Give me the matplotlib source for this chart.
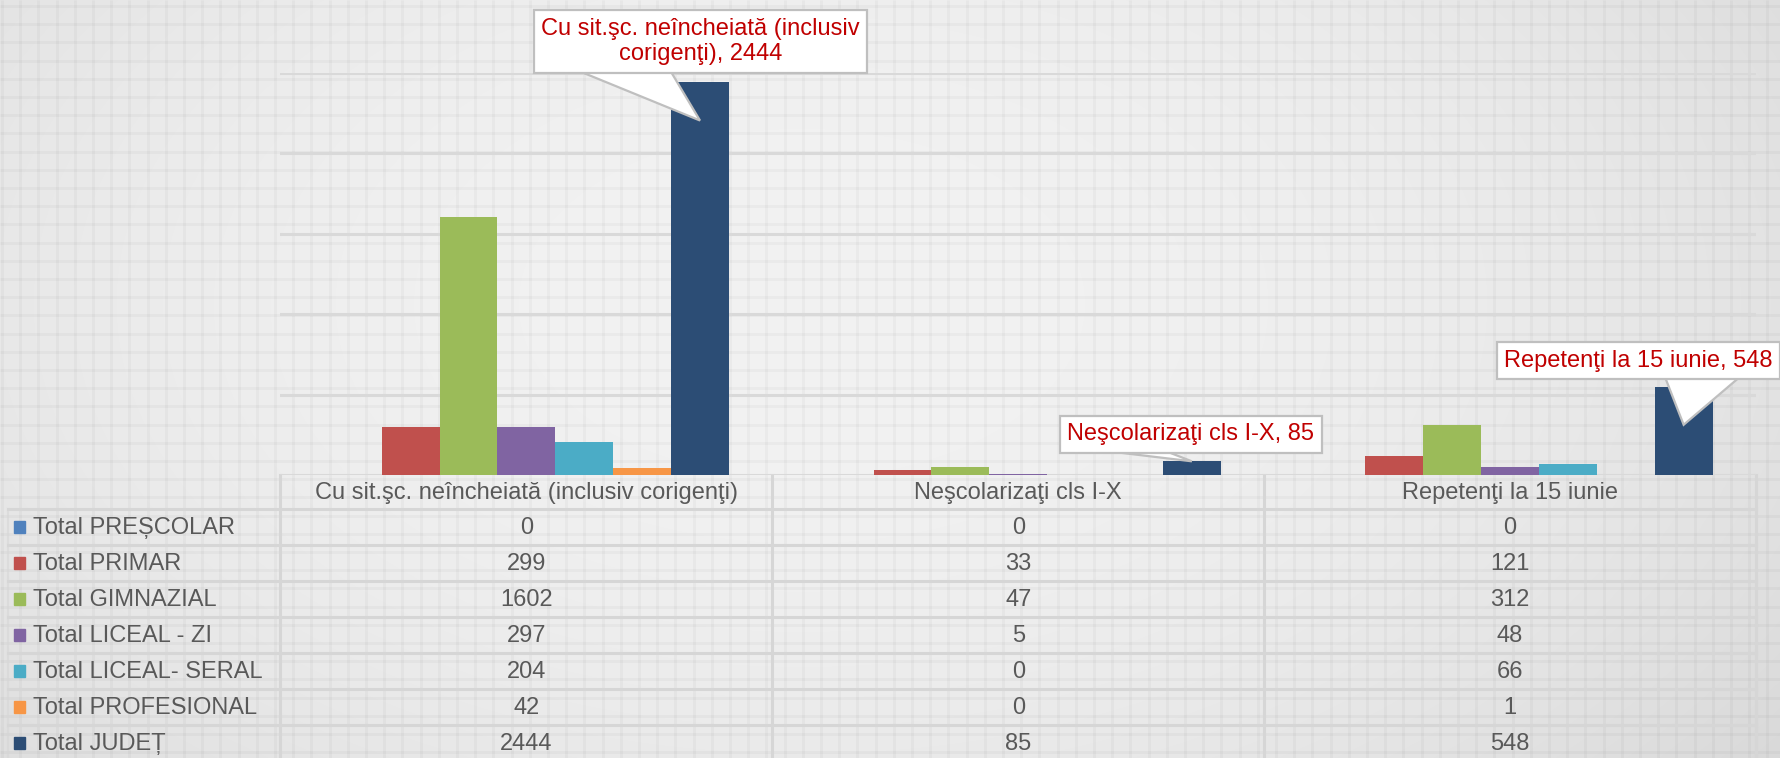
import numpy as np
import matplotlib
matplotlib.use("Agg")
import matplotlib.pyplot as plt
from matplotlib.collections import LineCollection
from matplotlib.patches import Polygon
from matplotlib.transforms import blended_transform_factory

# ---------------- data ----------------
categories = ["Cu sit.şc. neîncheiată (inclusiv corigenţi)",
              "Neşcolarizaţi cls I-X",
              "Repetenţi la 15 iunie"]
series_names = ["Total PREȘCOLAR", "Total PRIMAR", "Total GIMNAZIAL",
                "Total LICEAL - ZI", "Total LICEAL- SERAL",
                "Total PROFESIONAL", "Total JUDEȚ"]
prescolar = [0, 0, 0]
primar = [299, 33, 121]
gimnazial = [1602, 47, 312]
liceal_zi = [297, 5, 48]
liceal_seral = [204, 0, 66]
profesional = [42, 0, 1]
judet = [2444, 85, 548]
callout_labels = ["Cu sit.şc. neîncheiată (inclusiv\ncorigenţi), 2444",
                  "Neşcolarizaţi cls I-X, 85",
                  "Repetenţi la 15 iunie, 548"]
y_max = 2500
y_step = 500

series_values = [prescolar, primar, gimnazial, liceal_zi, liceal_seral,
                 profesional, judet]
colors = ["#4F81BD", "#C0504D", "#9BBB59", "#8064A2", "#4BACC6",
          "#F79646", "#2C4D75"]

# ---------------- layout ----------------
W, H = 1781, 758
DPI = 100
plt.rcParams["font.family"] = ["Liberation Sans", "DejaVu Sans"]
fig = plt.figure(figsize=(W / DPI, H / DPI), dpi=DPI)

# background axes in pixel coordinates (y downwards)
bg = fig.add_axes([0, 0, 1, 1], zorder=0)
bg.set_xlim(0, W)
bg.set_ylim(H, 0)
bg.axis("off")
yy, xx = np.mgrid[0:H, 0:W]
cx, cy = 0.45 * W, 0.40 * H
r = np.sqrt(((xx - cx) / (0.62 * W)) ** 2 + ((yy - cy) / (0.9 * H)) ** 2)
shade = 242 - 20 * np.clip(r, 0, 1.4) ** 2.2
img = np.dstack([shade, shade, shade]) / 255.0
bg.imshow(img, extent=(0, W, H, 0), aspect="auto", interpolation="bilinear",
          zorder=0)
step = 18.2
segs = [[(x, 0), (x, H)] for x in np.arange(2, W, step)]
segs += [[(0, y), (W, y)] for y in np.arange(6, H, step)]
bg.add_collection(LineCollection(segs, colors=(0, 0, 0, 0.028),
                                 linewidths=2.2, zorder=1))

# bar axes
base_px, top_px = 475.0, 72.5
left_px, right_px = 280.5, 1756.0
ax = fig.add_axes([left_px / W, (H - base_px) / H,
                   (right_px - left_px) / W, (base_px - top_px) / H],
                  zorder=2)
ax.set_facecolor("none")
ax.set_xlim(-0.5, len(categories) - 0.5)
ax.set_ylim(0, y_max)
for s in ax.spines.values():
    s.set_visible(False)
ax.set_yticks(np.arange(0, y_max + 1, y_step))
ax.set_xticks([])
ax.tick_params(axis="y", length=0, labelleft=False)
ax.grid(axis="y", color="#D9D9D9", linewidth=2.2)
ax.set_axisbelow(True)

n = len(series_values)
bw = 1.0 / (n + 1.5)
x = np.arange(len(categories))
for i, (vals, col) in enumerate(zip(series_values, colors)):
    ax.bar(x + (i - (n - 1) / 2) * bw, vals, width=bw, color=col,
           linewidth=0, zorder=3)

# ---------------- data table ----------------
tcol = "#595959"
lcol = "#D6D6D6"
fs = 17
header_h = 34
row_h = 36
row_top = base_px + header_h
trans_xc = blended_transform_factory(ax.transData, bg.transData)

for b in np.arange(-0.5, len(categories), 1.0):
    bg.plot([b, b], [base_px, H + 5], transform=trans_xc, color=lcol,
            lw=2.2, zorder=2, clip_on=False)
for k in range(len(series_names) + 1):
    yk = row_top + k * row_h
    bg.plot([8, right_px], [yk, yk], color=lcol, lw=2.2, zorder=2)
bg.plot([8, 8], [row_top, H], color=lcol, lw=1.5, zorder=2, alpha=0.6)

for j, cat in enumerate(categories):
    bg.text(j, base_px + header_h / 2 + 1, cat, transform=trans_xc,
            ha="center", va="center", fontsize=fs, color=tcol, zorder=4)
for k, (name, vals, col) in enumerate(zip(series_names, series_values, colors)):
    yc = row_top + (k + 0.5) * row_h
    bg.add_patch(plt.Rectangle((14, yc - 6), 11, 12, color=col, zorder=4))
    bg.text(33, yc + 1, name, ha="left", va="center", fontsize=fs,
            color=tcol, zorder=4)
    for j, v in enumerate(vals):
        bg.text(j, yc + 1, str(v), transform=trans_xc, ha="center",
                va="center", fontsize=fs, color=tcol, zorder=4)

# ---------------- callouts ----------------
bar_x = x + (n - 1 - (n - 1) / 2) * bw
tip_drop = [39, 0, 38]                       # pixels below the bar top
text_off = [(0.5, -79), (-1, -27), (-45, -64)]  # box centre relative to tip
wedge_base = [((-115, -47), (-28, -47)),
              ((-75, -9), (-23, -9)),
              ((-18, -46), (54, -46))]
edge = "#BFBFBF"
for j in range(len(categories)):
    px, py = ax.transData.transform((bar_x[j], judet[j]))
    tx, ty = px, (H - py) + tip_drop[j]       # tip in bg pixel coords
    (a1, b1), (a2, b2) = wedge_base[j]
    poly = Polygon([(tx + a1, ty + b1 - 6), (tx + a1 * 1.0, ty + b1),
                    (tx, ty), (tx + a2, ty + b2), (tx + a2, ty + b2 - 6)],
                   closed=True, fc="white", ec=edge, lw=1.6,
                   transform=bg.transData, zorder=5, clip_on=False,
                   joinstyle="miter")
    ax.add_patch(poly)
    ax.text(tx + text_off[j][0], ty + text_off[j][1], callout_labels[j],
            transform=bg.transData, ha="center", va="center", fontsize=fs,
            color="#C00000", linespacing=1.2, zorder=6, clip_on=False,
            bbox=dict(boxstyle="square,pad=0.32", fc="white", ec=edge,
                      lw=1.6))

fig.savefig("out.png", dpi=DPI)
